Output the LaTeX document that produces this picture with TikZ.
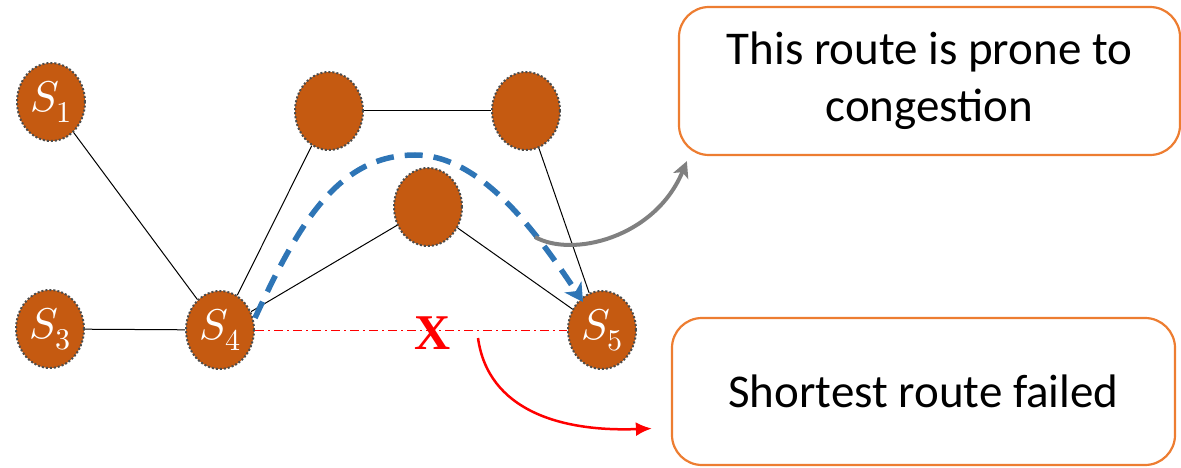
\documentclass[tikz,border=0pt]{standalone}
\usepackage{fontspec}
\usepackage{unicode-math}
\setmainfont{Carlito}
\setmathfont{Latin Modern Math}
\newfontfamily\xfont{Liberation Serif}
\usetikzlibrary{shapes.geometric,arrows.meta,calc}
\definecolor{nodefill}{HTML}{C55A11}
\definecolor{pathblue}{HTML}{2E75B6}
\definecolor{boxorange}{HTML}{ED7D31}
\definecolor{arrowgray}{HTML}{808080}
\tikzset{
  station/.style={ellipse, fill=nodefill, draw=black!70, line width=2pt,
    dash pattern=on 2pt off 2pt, minimum width=68pt, minimum height=78pt,
    inner sep=0pt, text=white, font=\fontsize{43}{46}\selectfont},
  link/.style={draw=black, line width=1pt},
  note/.style={draw=boxorange, line width=2.2pt, rounded corners=30pt, fill=white,
    align=center, font=\fontsize{47}{57}\selectfont, inner sep=0pt},
}
\begin{document}
\begin{tikzpicture}[x=1pt, y=-1pt]
\useasboundingbox (0,0) rectangle (1181,468);

% network nodes
\node[station] (s1) at (51,102) {$S_1$};
\node[station] (s3) at (50,329) {$S_3$};
\node[station] (s4) at (220,330) {$S_4$};
\node[station] (s5) at (602,330) {$S_5$};
\node[station] (t1) at (329,111) {};
\node[station] (t2) at (526,111) {};
\node[station] (m)  at (428,207) {};

% links
\draw[link] (s1) -- (s4);
\draw[link] (s3) -- (s4);
\draw[link] (s4) -- (t1);
\draw[link] (t1) -- (t2);
\draw[link] (t2) -- (s5);
\draw[link] (s4) -- (m);
\draw[link] (m) -- (s5);

% failed shortest link
\draw[red, line width=1pt, dash pattern=on 9pt off 4pt on 2pt off 4pt] (s4) -- (s5);
\node[text=red, font=\xfont\bfseries\fontsize{50}{50}\selectfont, inner sep=0pt] (x) at (433,333) {X};

% detour path
\coordinate (pstart) at (255,318);
\coordinate (ptop) at (415,155);
\coordinate (pend) at (583,302);
\draw[pathblue, line width=5.5pt, dash pattern=on 18pt off 11pt,
  -{Stealth[length=18pt, width=20pt, inset=5pt]}]
  (pstart) .. controls (300,220) and (340,155) .. (ptop)
  .. controls (480,155) and (535,230) .. (pend);

% text boxes
\node[note, minimum width=501pt, minimum height=148pt] (b1) at (929.5,81)
  {This route is prone to\\congestion};
\node[note, minimum width=503pt, minimum height=147pt] (b2) at (923.5,391.5)
  {Shortest route failed};

% callout arrows
\coordinate (gstart) at (535,237);
\coordinate (gend) at ($(b1.south west)+(9,5)$);
\draw[arrowgray, line width=4pt, -{Stealth[length=16pt, width=16pt, inset=4pt]}]
  (gstart) .. controls (572,258) and (655,238) .. (gend);

\coordinate (rstart) at (478,338);
\coordinate (rend) at ($(b2.west)+(-19,37)$);
\draw[red, line width=2.5pt, -{Latex[length=16pt, width=14pt]}]
  (rstart) .. controls (488,410) and (560,432) .. (rend);
\end{tikzpicture}
\end{document}
